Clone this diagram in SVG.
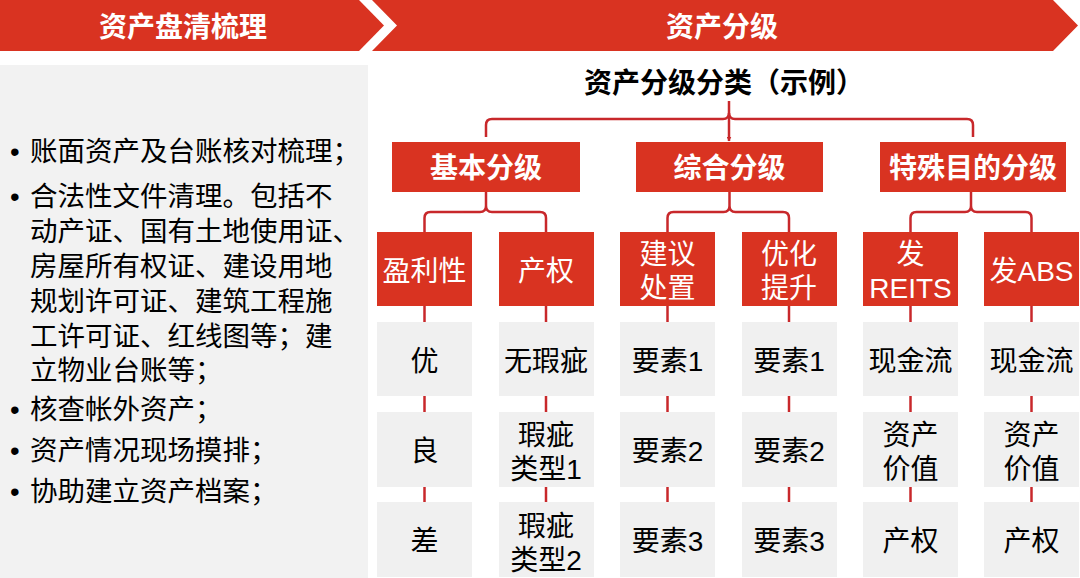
<svg xmlns="http://www.w3.org/2000/svg" width="1080" height="578" viewBox="0 0 1080 578">
<style>
.red{fill:#D93321}
.gray{fill:#F0F0F0}
.panel{fill:#F2F2F2}
text{font-family:"Liberation Sans","Noto Sans CJK SC",sans-serif}
.hdr{fill:#fff;font-size:28px;font-weight:bold;text-anchor:middle}
.title{fill:#000;font-size:28px;font-weight:bold;text-anchor:middle}
.l1{fill:#fff;font-size:28px;font-weight:bold;text-anchor:middle}
.l2{fill:#fff;font-size:28px;text-anchor:middle}
.cell{fill:#000;font-size:28px;text-anchor:middle}
.left{fill:#000;font-size:27.5px}
.conn{fill:none;stroke:#C8282B;stroke-width:2.5}
</style>
<defs>
<marker id="arr" viewBox="0 0 10 10" refX="9" refY="5" markerWidth="5" markerHeight="5" orient="auto" markerUnits="userSpaceOnUse">
<path d="M0,0 L10,5 L0,10 z" fill="#C8282B"/>
</marker>
</defs>
<rect width="1080" height="578" fill="#fff"/>

<g id="banner-left">
<polygon class="red" points="0,0 359,0 384,25.5 359,51 0,51"/>
<text class="hdr" x="183" y="37">资产盘清梳理</text>
</g>
<g id="banner-right">
<polygon class="red" points="372,0 1053,0 1078,25.5 1053,51 372,51 397,25.5"/>
<text class="hdr" x="722" y="37">资产分级</text>
</g>

<g id="left-panel">
<rect class="panel" x="0" y="65" width="368" height="513"/>
<text class="left" x="10" y="160.5">•</text>
<text class="left" x="30" y="160.5">账面资产及台账核对梳理；</text>
<text class="left" x="10" y="205.5">•</text>
<text class="left" x="30" y="205.5">合法性文件清理。包括不</text>
<text class="left" x="30" y="240.5">动产证、国有土地使用证、</text>
<text class="left" x="30" y="275.5">房屋所有权证、建设用地</text>
<text class="left" x="30" y="310.5">规划许可证、建筑工程施</text>
<text class="left" x="30" y="345.5">工许可证、红线图等；建</text>
<text class="left" x="30" y="379.5">立物业台账等；</text>
<text class="left" x="10" y="418.5">•</text>
<text class="left" x="30" y="418.5">核查帐外资产；</text>
<text class="left" x="10" y="459.5">•</text>
<text class="left" x="30" y="459.5">资产情况现场摸排；</text>
<text class="left" x="10" y="500.5">•</text>
<text class="left" x="30" y="500.5">协助建立资产档案；</text>
</g>

<g id="title">
<text class="title" x="724" y="92.6">资产分级分类（示例）</text>
</g>

<g id="connectors">
<path class="conn" d="M486,137 V125 Q486,119 492,119 H723 Q729,119 729,113 M729,113 Q729,119 735,119 H967 Q973,119 973,125 V137"/>
<line class="conn" x1="729" y1="101" x2="729" y2="141" marker-end="url(#arr)"/>
<path class="conn" d="M424.5,232 V218 Q424.5,212 430.5,212 H480 Q486,212 486,206 V192 M486,206 Q486,212 492,212 H540 Q546,212 546,218 V232"/>
<path class="conn" d="M667.5,232 V218 Q667.5,212 673.5,212 H723.5 Q729.5,212 729.5,206 V192 M729.5,206 Q729.5,212 735.5,212 H783 Q789,212 789,218 V232"/>
<path class="conn" d="M910.5,232 V218 Q910.5,212 916.5,212 H965 Q971,212 971,206 V192 M971,206 Q971,212 977,212 H1025.5 Q1031.5,212 1031.5,218 V232"/>
<line class="conn" x1="424.5" y1="306" x2="424.5" y2="502"/>
<line class="conn" x1="546" y1="306" x2="546" y2="502"/>
<line class="conn" x1="667.5" y1="306" x2="667.5" y2="502"/>
<line class="conn" x1="789" y1="306" x2="789" y2="502"/>
<line class="conn" x1="910.5" y1="306" x2="910.5" y2="502"/>
<line class="conn" x1="1031.5" y1="306" x2="1031.5" y2="502"/>
</g>

<g id="basic">
<rect class="red" x="392" y="142" width="188" height="50"/>
<text class="l1" x="486" y="177.6">基本分级</text>
</g>
<g id="composite">
<rect class="red" x="636" y="142" width="187" height="50"/>
<text class="l1" x="729.5" y="177.6">综合分级</text>
</g>
<g id="special">
<rect class="red" x="880" y="142" width="186" height="50"/>
<text class="l1" x="973" y="177.6">特殊目的分级</text>
</g>

<g id="profit">
<rect class="red" x="377" y="232" width="95" height="74"/>
<text class="l2" x="424.5" y="280.6">盈利性</text>
</g>
<g id="property">
<rect class="red" x="499" y="232" width="95" height="74"/>
<text class="l2" x="546" y="280.6">产权</text>
</g>
<g id="disposal">
<rect class="red" x="620" y="232" width="95" height="74"/>
<text class="l2" x="667.5" y="263.6">建议</text>
<text class="l2" x="667.5" y="297.6">处置</text>
</g>
<g id="improve">
<rect class="red" x="742" y="232" width="95" height="74"/>
<text class="l2" x="789" y="263.6">优化</text>
<text class="l2" x="789" y="297.6">提升</text>
</g>
<g id="reits">
<rect class="red" x="863" y="232" width="95" height="74"/>
<text class="l2" x="910.5" y="263.6">发</text>
<text class="l2" x="910.5" y="297.6">REITS</text>
</g>
<g id="abs">
<rect class="red" x="984" y="232" width="95" height="74"/>
<text class="l2" x="1031.5" y="280.6">发ABS</text>
</g>

<g id="c1r1"><rect class="gray" x="377" y="322" width="95" height="74"/><text class="cell" x="424.5" y="370.6">优</text></g>
<g id="c1r2"><rect class="gray" x="377" y="412" width="95" height="75"/><text class="cell" x="424.5" y="460.6">良</text></g>
<g id="c1r3"><rect class="gray" x="377" y="502" width="95" height="75"/><text class="cell" x="424.5" y="550.6">差</text></g>

<g id="c2r1"><rect class="gray" x="499" y="322" width="95" height="74"/><text class="cell" x="546" y="370.6">无瑕疵</text></g>
<g id="c2r2"><rect class="gray" x="499" y="412" width="95" height="75"/><text class="cell" x="546" y="444.6">瑕疵</text><text class="cell" x="546" y="478.6">类型1</text></g>
<g id="c2r3"><rect class="gray" x="499" y="502" width="95" height="75"/><text class="cell" x="546" y="535.6">瑕疵</text><text class="cell" x="546" y="569.6">类型2</text></g>

<g id="c3r1"><rect class="gray" x="620" y="322" width="95" height="74"/><text class="cell" x="667.5" y="370.6">要素1</text></g>
<g id="c3r2"><rect class="gray" x="620" y="412" width="95" height="75"/><text class="cell" x="667.5" y="460.6">要素2</text></g>
<g id="c3r3"><rect class="gray" x="620" y="502" width="95" height="75"/><text class="cell" x="667.5" y="550.6">要素3</text></g>

<g id="c4r1"><rect class="gray" x="742" y="322" width="95" height="74"/><text class="cell" x="789" y="370.6">要素1</text></g>
<g id="c4r2"><rect class="gray" x="742" y="412" width="95" height="75"/><text class="cell" x="789" y="460.6">要素2</text></g>
<g id="c4r3"><rect class="gray" x="742" y="502" width="95" height="75"/><text class="cell" x="789" y="550.6">要素3</text></g>

<g id="c5r1"><rect class="gray" x="863" y="322" width="95" height="74"/><text class="cell" x="910.5" y="370.6">现金流</text></g>
<g id="c5r2"><rect class="gray" x="863" y="412" width="95" height="75"/><text class="cell" x="910.5" y="444.6">资产</text><text class="cell" x="910.5" y="478.6">价值</text></g>
<g id="c5r3"><rect class="gray" x="863" y="502" width="95" height="75"/><text class="cell" x="910.5" y="550.6">产权</text></g>

<g id="c6r1"><rect class="gray" x="984" y="322" width="95" height="74"/><text class="cell" x="1031.5" y="370.6">现金流</text></g>
<g id="c6r2"><rect class="gray" x="984" y="412" width="95" height="75"/><text class="cell" x="1031.5" y="444.6">资产</text><text class="cell" x="1031.5" y="478.6">价值</text></g>
<g id="c6r3"><rect class="gray" x="984" y="502" width="95" height="75"/><text class="cell" x="1031.5" y="550.6">产权</text></g>
</svg>
